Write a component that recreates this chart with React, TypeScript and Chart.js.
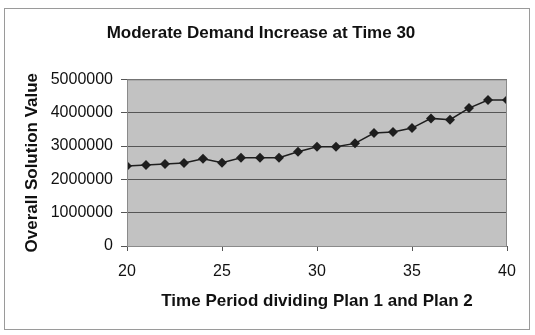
import React, { useEffect, useRef } from "react";
import { Chart, registerables } from "chart.js";

Chart.register(...registerables);

// Time period dividing Plan 1 and Plan 2
const periods = [20, 21, 22, 23, 24, 25, 26, 27, 28, 29, 30, 31, 32, 33, 34, 35, 36, 37, 38, 39, 40];
// Overall solution value for each dividing period
const solutionValues = [
  2400000, 2430000, 2460000, 2490000, 2620000, 2500000, 2650000, 2650000, 2650000, 2830000,
  2980000, 2980000, 3080000, 3390000, 3420000, 3540000, 3830000, 3790000, 4140000, 4380000, 4380000,
];
const yTicks = [0, 1000000, 2000000, 3000000, 4000000, 5000000];
const xTicks = [20, 25, 30, 35, 40];

const FONT = "'Liberation Sans', Arial, sans-serif";

// Gray plot background, plot border and the outer frame around the whole chart
const framePlugin = {
  id: "frame",
  beforeDraw(chart: any) {
    const { ctx, chartArea: a } = chart;
    ctx.save();
    ctx.fillStyle = "#ffffff";
    ctx.fillRect(0, 0, chart.width, chart.height);
    ctx.fillStyle = "#c2c2c2";
    ctx.fillRect(a.left, a.top, a.right - a.left, a.bottom - a.top);
    ctx.restore();
  },
  afterDraw(chart: any) {
    const { ctx, chartArea: a } = chart;
    ctx.save();
    ctx.strokeStyle = "#8a8a8a";
    ctx.lineWidth = 1;
    ctx.strokeRect(a.left + 0.5, a.top + 0.5, a.right - a.left - 1, a.bottom - a.top);
    ctx.strokeStyle = "#9a9a9a";
    ctx.strokeRect(4.5, 8.5, chart.width - 10, chart.height - 14);
    ctx.restore();
  },
};

export default function App() {
  const ref = useRef<HTMLCanvasElement | null>(null);

  useEffect(() => {
    document.body.style.margin = "0";
    const canvas = ref.current;
    if (!canvas) return;
    const chart = new Chart(canvas, {
      type: "line",
      data: {
        datasets: [
          {
            data: periods.map((p, i) => ({ x: p, y: solutionValues[i] })),
            borderColor: "#1e1e1e",
            borderWidth: 1.5,
            backgroundColor: "#1e1e1e",
            pointStyle: "rectRot",
            pointRadius: 5,
            pointBorderWidth: 0,
            tension: 0,
          },
        ],
      },
      options: {
        responsive: false,
        animation: false,
        layout: { padding: { left: 15, right: 28, top: 0, bottom: 0 } },
        plugins: {
          legend: { display: false },
          tooltip: { enabled: false },
          title: {
            display: true,
            text: "Moderate Demand Increase at Time 30",
            color: "#111",
            font: { family: FONT, size: 17, weight: "bold" },
            padding: { top: 23, bottom: 36 },
          },
        },
        scales: {
          x: {
            type: "linear",
            min: 20,
            max: 40,
            afterBuildTicks: (s: any) => {
              s.ticks = xTicks.map((v) => ({ value: v }));
            },
            afterFit: (s: any) => {
              s.height = 89;
            },
            grid: {
              drawOnChartArea: false,
              drawTicks: true,
              tickLength: 5,
              color: "#555",
            },
            border: { display: true, color: "#555" },
            ticks: {
              color: "#111",
              padding: 11,
              maxRotation: 0,
              font: { family: FONT, size: 16 },
            },
            title: {
              display: true,
              text: "Time Period dividing Plan 1 and Plan 2",
              color: "#111",
              font: { family: FONT, size: 17, weight: "bold" },
              padding: { top: 0, bottom: 23 },
            },
          },
          y: {
            min: 0,
            max: 5000000,
            afterBuildTicks: (s: any) => {
              s.ticks = yTicks.map((v) => ({ value: v }));
            },
            afterFit: (s: any) => {
              s.width = 112;
            },
            grid: {
              drawOnChartArea: true,
              drawTicks: true,
              tickLength: 6,
              color: "#555",
            },
            border: { display: true, color: "#555" },
            ticks: {
              color: "#111",
              padding: 8,
              font: { family: FONT, size: 16 },
              callback: (v: any) => String(v),
            },
            title: {
              display: true,
              text: "Overall Solution Value",
              color: "#111",
              font: { family: FONT, size: 17, weight: "bold" },
              padding: { top: 7, bottom: 0 },
            },
          },
        },
      },
      plugins: [framePlugin],
    });
    return () => chart.destroy();
  }, []);

  return <canvas ref={ref} width={535} height={335} style={{ display: "block" }} />;
}
